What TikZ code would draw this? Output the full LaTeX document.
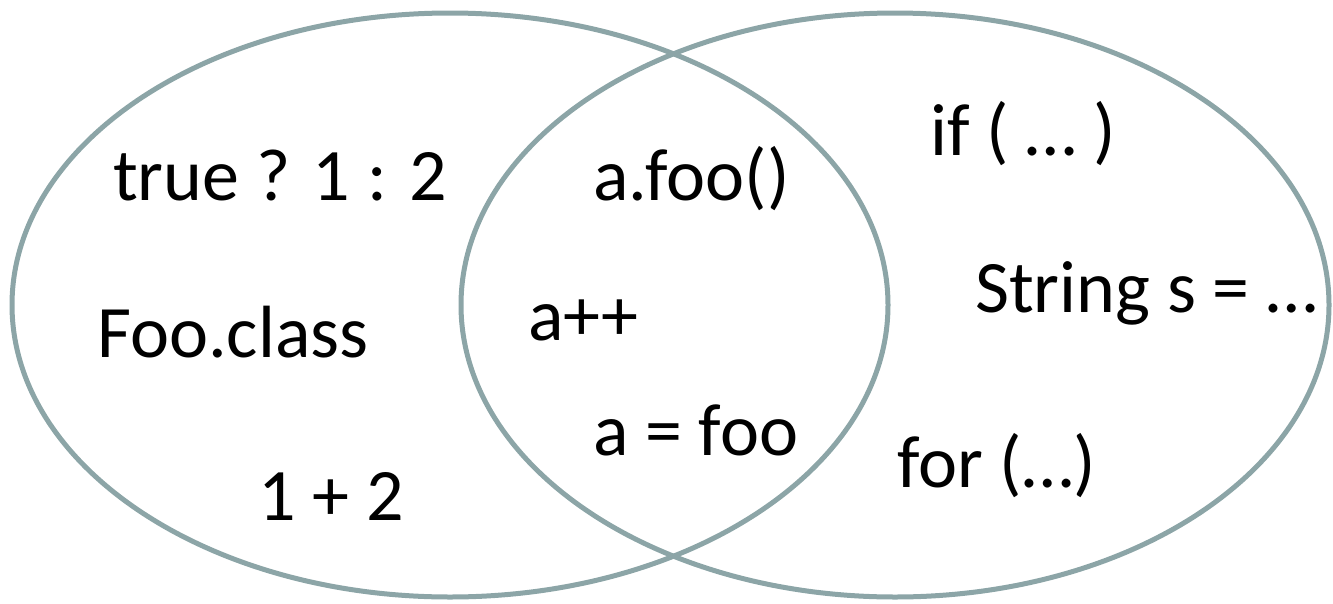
\documentclass[tikz,border=0pt]{standalone}
\usepackage{fontspec}
\setmainfont{Carlito}
\definecolor{ringcol}{HTML}{8CA5A7}
\begin{document}
\begin{tikzpicture}[x=1pt,y=-1pt,
  ring/.style={draw=ringcol,line width=5pt},
  lbl/.style={anchor=base west,inner sep=0pt,font=\fontsize{74}{88}\selectfont}]
\useasboundingbox (0,0) rectangle (1333,603);
\draw[ring] (450,305) ellipse [x radius=438, y radius=292];
\draw[ring] (895,305) ellipse [x radius=434, y radius=292];
\node[lbl] (t1) at (113,200) {true ? 1 : 2};
\node[lbl] (t2) at (97,357) {Foo.class};
\node[lbl] (t3) at (258,520) {1 + 2};
\node[lbl] (m1) at (593,200) {a.foo()};
\node[lbl] (m2) at (528,340) {a++};
\node[lbl] (m3) at (593,455) {a = foo};
\node[lbl] (r1) at (930,155) {if ( … )};
\node[lbl] (r2) at (975,312) {String s = …};
\node[lbl] (r3) at (897,487) {for (…)};
\end{tikzpicture}
\end{document}
